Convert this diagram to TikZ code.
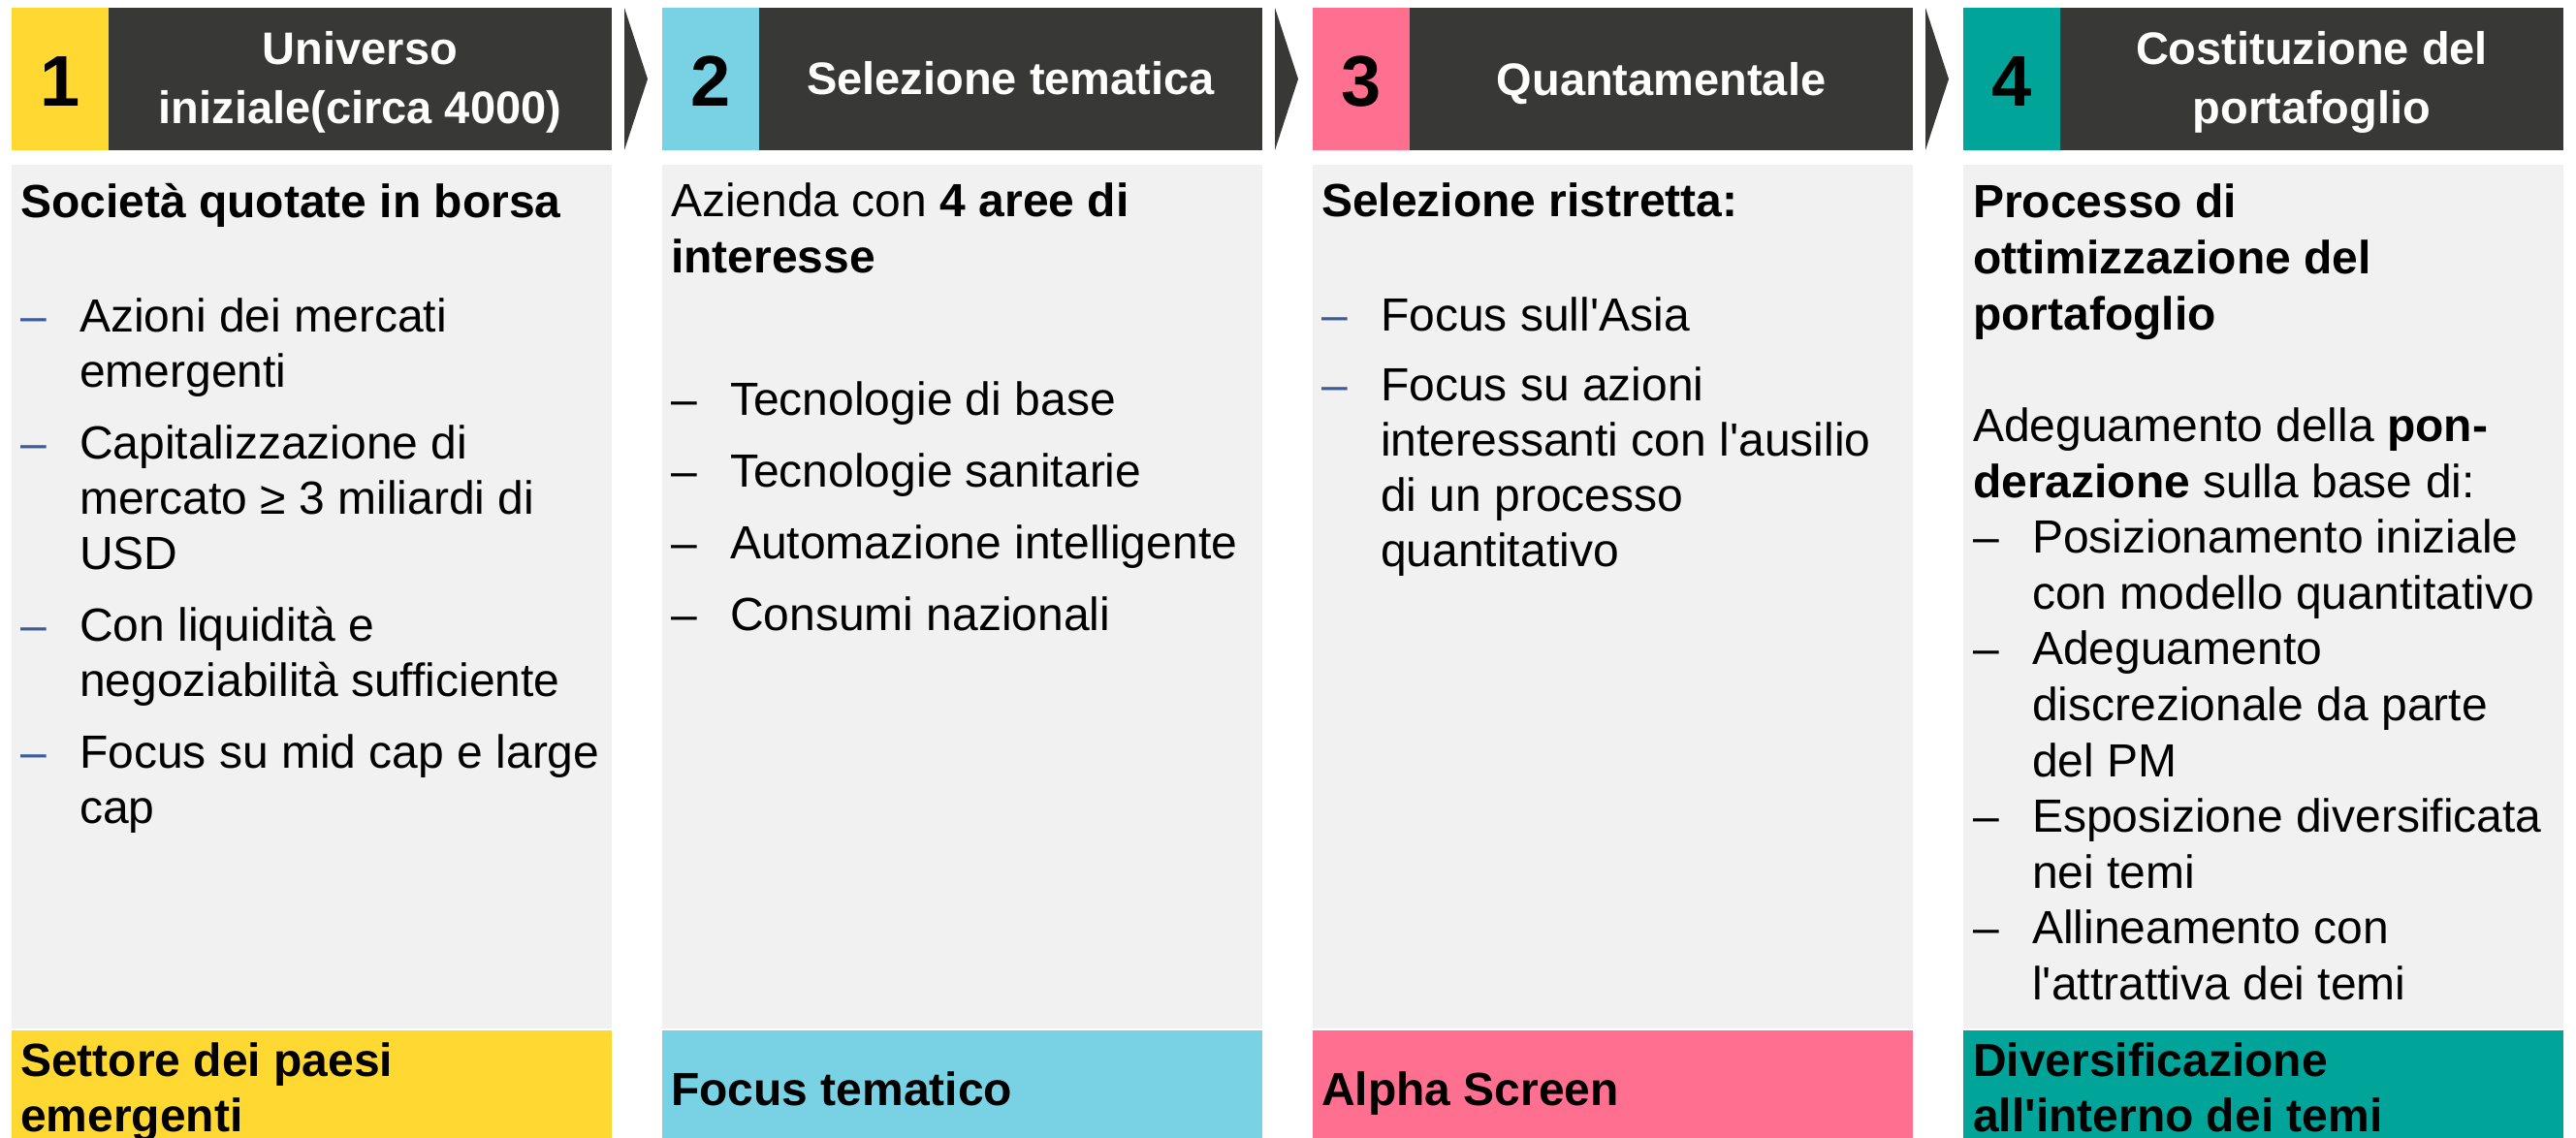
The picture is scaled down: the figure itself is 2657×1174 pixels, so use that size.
\documentclass[tikz,border=0pt]{standalone}
\usepackage{fontspec}
\setmainfont{Liberation Sans}[Ligatures=TeXOff]
\usetikzlibrary{calc}
\definecolor{cyel}{HTML}{FFD932}
\definecolor{cblu}{HTML}{78D2E4}
\definecolor{cpnk}{HTML}{FF6F8F}
\definecolor{ctea}{HTML}{00A499}
\definecolor{cdrk}{HTML}{383937}
\definecolor{cgry}{HTML}{F1F1F1}
\definecolor{cdsh}{HTML}{3E5C9C}
\tikzset{
  box/.style={draw=none, inner sep=0pt, outer sep=0pt, anchor=north west},
  numbox/.style={box, minimum width=100pt, minimum height=147pt},
  headbox/.style={box, fill=cdrk, minimum width=519pt, minimum height=147pt},
  bodybox/.style={box, fill=cgry, minimum width=619pt, minimum height=891pt},
  footbox/.style={box, minimum width=619pt, minimum height=115pt},
  numtxt/.style={inner sep=0pt, anchor=base, font=\fontsize{74}{74}\selectfont\bfseries, text=black},
  headtxt/.style={inner sep=0pt, anchor=base, font=\fontsize{47}{61}\selectfont\bfseries, text=white},
  txt/.style={inner sep=0pt, anchor=base west, font=\fontsize{48}{57}\selectfont, text=black},
  chev/.style={fill=cdrk}
}
\newcommand{\TxtLine}[4]{\node[txt] (#1) at (#2,#3) {#4};}
\newcommand{\DashAt}[4]{\node[txt, text=#4] (#1) at (#2,#3) {–};}
\begin{document}
\begin{tikzpicture}[x=1pt, y=-1pt]
\useasboundingbox[fill=white] (0,0) rectangle (2657,1174);

% ---------- headers ----------
\node[numbox, fill=cyel] (n1) at (12,8) {};
\node[headbox] (d1) at (112,8) {};
\node[numbox, fill=cblu] (n2) at (683,8) {};
\node[headbox] (d2) at (783,8) {};
\node[numbox, fill=cpnk] (n3) at (1354,8) {};
\node[headbox] (d3) at (1454,8) {};
\node[numbox, fill=ctea] (n4) at (2025,8) {};
\node[headbox] (d4) at (2125,8) {};

\node[numtxt] (t1) at (62,110) {1};
\node[numtxt] (t2) at (733,110) {2};
\node[numtxt] (t3) at (1404,110) {3};
\node[numtxt] (t4) at (2075,110) {4};

\node[headtxt] (h1a) at (371.5,67) {Universo};
\node[headtxt] (h1b) at (371.5,128) {iniziale(circa 4000)};
\node[headtxt] (h2a) at (1042.5,98) {Selezione tematica};
\node[headtxt] (h3a) at (1713.5,99) {Quantamentale};
\node[headtxt] (h4a) at (2384.5,67) {Costituzione del};
\node[headtxt] (h4b) at (2384.5,128) {portafoglio};

% chevrons
\fill[chev] ([xshift=13pt]d1.north east) -- ([xshift=37pt]d1.east) -- ([xshift=13pt]d1.south east) -- cycle;
\fill[chev] ([xshift=13pt]d2.north east) -- ([xshift=37pt]d2.east) -- ([xshift=13pt]d2.south east) -- cycle;
\fill[chev] ([xshift=13pt]d3.north east) -- ([xshift=37pt]d3.east) -- ([xshift=13pt]d3.south east) -- cycle;

% ---------- bodies ----------
\node[bodybox] (b1) at (12,170) {};
\node[bodybox] (b2) at (683,170) {};
\node[bodybox] (b3) at (1354,170) {};
\node[bodybox] (b4) at (2025,170) {};

% ---------- footers ----------
\node[footbox, fill=cyel] (f1) at (12,1063) {};
\node[footbox, fill=cblu] (f2) at (683,1063) {};
\node[footbox, fill=cpnk] (f3) at (1354,1063) {};
\node[footbox, fill=ctea] (f4) at (2025,1063) {};

% ---------- column 1 ----------
\TxtLine{c1h}{21}{225}{\bfseries Società quotate in borsa}
\DashAt{c1d1}{21}{342}{cdsh}
\TxtLine{c1a1}{82}{342}{Azioni dei mercati}
\TxtLine{c1a2}{82}{399}{emergenti}
\DashAt{c1d2}{21}{473}{cdsh}
\TxtLine{c1b1}{82}{473}{Capitalizzazione di}
\TxtLine{c1b2}{82}{530}{mercato ≥ 3 miliardi di}
\TxtLine{c1b3}{82}{587}{USD}
\DashAt{c1d3}{21}{661}{cdsh}
\TxtLine{c1c1}{82}{661}{Con liquidità e}
\TxtLine{c1c2}{82}{718}{negoziabilità sufficiente}
\DashAt{c1d4}{21}{792}{cdsh}
\TxtLine{c1e1}{82}{792}{Focus su mid cap e large}
\TxtLine{c1e2}{82}{849}{cap}

% ---------- column 2 ----------
\TxtLine{c2h1}{692}{224}{Azienda con \textbf{4 aree di}}
\TxtLine{c2h2}{692}{281}{\bfseries interesse}
\DashAt{c2d1}{692}{428}{black}
\TxtLine{c2a}{753}{428}{Tecnologie di base}
\DashAt{c2d2}{692}{502}{black}
\TxtLine{c2b}{753}{502}{Tecnologie sanitarie}
\DashAt{c2d3}{692}{576}{black}
\TxtLine{c2c}{753}{576}{Automazione intelligente}
\DashAt{c2d4}{692}{650}{black}
\TxtLine{c2e}{753}{650}{Consumi nazionali}

% ---------- column 3 ----------
\TxtLine{c3h}{1363}{224}{\bfseries Selezione ristretta:}
\DashAt{c3d1}{1363}{341}{cdsh}
\TxtLine{c3a}{1424}{341}{Focus sull'Asia}
\DashAt{c3d2}{1363}{413}{cdsh}
\TxtLine{c3b1}{1424}{413}{Focus su azioni}
\TxtLine{c3b2}{1424}{470}{interessanti con l'ausilio}
\TxtLine{c3b3}{1424}{527}{di un processo}
\TxtLine{c3b4}{1424}{584}{quantitativo}

% ---------- column 4 ----------
\TxtLine{c4h1}{2035}{225}{\bfseries Processo di}
\TxtLine{c4h2}{2035}{282.6}{\bfseries ottimizzazione del}
\TxtLine{c4h3}{2035}{340.2}{\bfseries portafoglio}
\TxtLine{c4p1}{2035}{455.4}{Adeguamento della \textbf{pon-}}
\TxtLine{c4p2}{2035}{513}{\textbf{derazione} sulla base di:}
\DashAt{c4d1}{2035}{570.6}{black}
\TxtLine{c4a1}{2096}{570.6}{Posizionamento iniziale}
\TxtLine{c4a2}{2096}{628.2}{con modello quantitativo}
\DashAt{c4d2}{2035}{685.8}{black}
\TxtLine{c4b1}{2096}{685.8}{Adeguamento}
\TxtLine{c4b2}{2096}{743.4}{discrezionale da parte}
\TxtLine{c4b3}{2096}{801}{del PM}
\DashAt{c4d3}{2035}{858.6}{black}
\TxtLine{c4c1}{2096}{858.6}{Esposizione diversificata}
\TxtLine{c4c2}{2096}{916.2}{nei temi}
\DashAt{c4d4}{2035}{973.8}{black}
\TxtLine{c4e1}{2096}{973.8}{Allineamento con}
\TxtLine{c4e2}{2096}{1031.4}{l'attrattiva dei temi}

% ---------- footer texts ----------
\TxtLine{f1a}{21}{1110}{\bfseries Settore dei paesi}
\TxtLine{f1b}{21}{1167}{\bfseries emergenti}
\TxtLine{f2a}{692}{1140}{\bfseries Focus tematico}
\TxtLine{f3a}{1363}{1140}{\bfseries Alpha Screen}
\TxtLine{f4a}{2035}{1110}{\bfseries Diversificazione}
\TxtLine{f4b}{2035}{1167}{\bfseries all'interno dei temi}
\end{tikzpicture}
\end{document}
